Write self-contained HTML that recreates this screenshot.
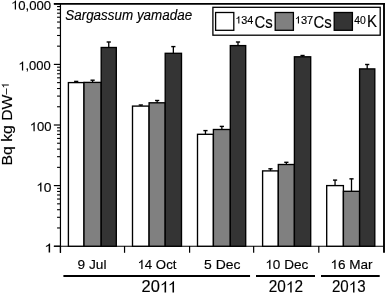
<!DOCTYPE html>
<html><head><meta charset="utf-8"><style>
html,body{margin:0;padding:0;background:#fff;}
body{width:385px;height:293px;overflow:hidden;filter:grayscale(1);}
svg{display:block;}
text{font-family:"Liberation Sans",sans-serif;fill:#000;stroke:#000;stroke-width:0.15px;}
.yl{font-size:12.6px;}
.xl{font-size:13px;}
.yr{font-size:15.6px;}
.lg{font-size:16px;}
.sup{font-size:10.2px;}
.ti{font-size:13.3px;font-style:italic;}
.ya{font-size:14.5px;}
.h{fill-opacity:0;stroke-opacity:0;}
.one{fill:#000;}
</style></head><body>
<svg width="385" height="293" viewBox="0 0 385 293">
<line x1="53.9" y1="3.9" x2="385" y2="3.9" stroke="#000" stroke-width="1.8"/>
<line x1="60.45" y1="3" x2="60.45" y2="252.8" stroke="#000" stroke-width="1.2"/>
<line x1="384" y1="3" x2="384" y2="252.8" stroke="#000" stroke-width="1.9"/>
<line x1="53.9" y1="246.25" x2="384" y2="246.25" stroke="#000" stroke-width="1.2"/>
<line x1="57.05" y1="227.96" x2="60.45" y2="227.96" stroke="#000" stroke-width="1.1"/>
<line x1="57.05" y1="217.29" x2="60.45" y2="217.29" stroke="#000" stroke-width="1.1"/>
<line x1="57.05" y1="209.72" x2="60.45" y2="209.72" stroke="#000" stroke-width="1.1"/>
<line x1="57.05" y1="203.84" x2="60.45" y2="203.84" stroke="#000" stroke-width="1.1"/>
<line x1="57.05" y1="199.04" x2="60.45" y2="199.04" stroke="#000" stroke-width="1.1"/>
<line x1="57.05" y1="194.99" x2="60.45" y2="194.99" stroke="#000" stroke-width="1.1"/>
<line x1="57.05" y1="191.47" x2="60.45" y2="191.47" stroke="#000" stroke-width="1.1"/>
<line x1="57.05" y1="188.37" x2="60.45" y2="188.37" stroke="#000" stroke-width="1.1"/>
<line x1="57.05" y1="167.36" x2="60.45" y2="167.36" stroke="#000" stroke-width="1.1"/>
<line x1="57.05" y1="156.69" x2="60.45" y2="156.69" stroke="#000" stroke-width="1.1"/>
<line x1="57.05" y1="149.12" x2="60.45" y2="149.12" stroke="#000" stroke-width="1.1"/>
<line x1="57.05" y1="143.24" x2="60.45" y2="143.24" stroke="#000" stroke-width="1.1"/>
<line x1="57.05" y1="138.44" x2="60.45" y2="138.44" stroke="#000" stroke-width="1.1"/>
<line x1="57.05" y1="134.39" x2="60.45" y2="134.39" stroke="#000" stroke-width="1.1"/>
<line x1="57.05" y1="130.87" x2="60.45" y2="130.87" stroke="#000" stroke-width="1.1"/>
<line x1="57.05" y1="127.77" x2="60.45" y2="127.77" stroke="#000" stroke-width="1.1"/>
<line x1="57.05" y1="106.76" x2="60.45" y2="106.76" stroke="#000" stroke-width="1.1"/>
<line x1="57.05" y1="96.09" x2="60.45" y2="96.09" stroke="#000" stroke-width="1.1"/>
<line x1="57.05" y1="88.52" x2="60.45" y2="88.52" stroke="#000" stroke-width="1.1"/>
<line x1="57.05" y1="82.64" x2="60.45" y2="82.64" stroke="#000" stroke-width="1.1"/>
<line x1="57.05" y1="77.84" x2="60.45" y2="77.84" stroke="#000" stroke-width="1.1"/>
<line x1="57.05" y1="73.79" x2="60.45" y2="73.79" stroke="#000" stroke-width="1.1"/>
<line x1="57.05" y1="70.27" x2="60.45" y2="70.27" stroke="#000" stroke-width="1.1"/>
<line x1="57.05" y1="67.17" x2="60.45" y2="67.17" stroke="#000" stroke-width="1.1"/>
<line x1="57.05" y1="46.16" x2="60.45" y2="46.16" stroke="#000" stroke-width="1.1"/>
<line x1="57.05" y1="35.49" x2="60.45" y2="35.49" stroke="#000" stroke-width="1.1"/>
<line x1="57.05" y1="27.92" x2="60.45" y2="27.92" stroke="#000" stroke-width="1.1"/>
<line x1="57.05" y1="22.04" x2="60.45" y2="22.04" stroke="#000" stroke-width="1.1"/>
<line x1="57.05" y1="17.24" x2="60.45" y2="17.24" stroke="#000" stroke-width="1.1"/>
<line x1="57.05" y1="13.19" x2="60.45" y2="13.19" stroke="#000" stroke-width="1.1"/>
<line x1="57.05" y1="9.67" x2="60.45" y2="9.67" stroke="#000" stroke-width="1.1"/>
<line x1="57.05" y1="6.57" x2="60.45" y2="6.57" stroke="#000" stroke-width="1.1"/>
<line x1="53.85" y1="246.20" x2="60.45" y2="246.20" stroke="#000" stroke-width="1.2"/>
<line x1="53.85" y1="185.60" x2="60.45" y2="185.60" stroke="#000" stroke-width="1.2"/>
<line x1="53.85" y1="125.00" x2="60.45" y2="125.00" stroke="#000" stroke-width="1.2"/>
<line x1="53.85" y1="64.40" x2="60.45" y2="64.40" stroke="#000" stroke-width="1.2"/>
<line x1="53.85" y1="3.80" x2="60.45" y2="3.80" stroke="#000" stroke-width="1.2"/>
<line x1="60.45" y1="246" x2="60.45" y2="252.8" stroke="#000" stroke-width="1.2"/>
<line x1="124.55" y1="246" x2="124.55" y2="252.8" stroke="#000" stroke-width="1.2"/>
<line x1="189.60" y1="246" x2="189.60" y2="252.8" stroke="#000" stroke-width="1.2"/>
<line x1="253.65" y1="246" x2="253.65" y2="252.8" stroke="#000" stroke-width="1.2"/>
<line x1="318.80" y1="246" x2="318.80" y2="252.8" stroke="#000" stroke-width="1.2"/>
<rect x="68.40" y="82.60" width="15.60" height="163.65" fill="#ffffff" stroke="#000" stroke-width="1.35"/>
<rect x="84.00" y="82.40" width="17.20" height="163.85" fill="#808080" stroke="#000" stroke-width="1.35"/>
<rect x="101.20" y="47.50" width="15.10" height="198.75" fill="#343434" stroke="#000" stroke-width="1.35"/>
<rect x="132.50" y="106.10" width="16.60" height="140.15" fill="#ffffff" stroke="#000" stroke-width="1.35"/>
<rect x="149.10" y="102.80" width="16.10" height="143.45" fill="#808080" stroke="#000" stroke-width="1.35"/>
<rect x="165.20" y="53.30" width="16.30" height="192.95" fill="#343434" stroke="#000" stroke-width="1.35"/>
<rect x="197.50" y="134.30" width="15.90" height="111.95" fill="#ffffff" stroke="#000" stroke-width="1.35"/>
<rect x="213.40" y="129.50" width="16.90" height="116.75" fill="#808080" stroke="#000" stroke-width="1.35"/>
<rect x="230.30" y="45.60" width="15.40" height="200.65" fill="#343434" stroke="#000" stroke-width="1.35"/>
<rect x="262.60" y="170.90" width="15.70" height="75.35" fill="#ffffff" stroke="#000" stroke-width="1.35"/>
<rect x="278.30" y="164.50" width="16.10" height="81.75" fill="#808080" stroke="#000" stroke-width="1.35"/>
<rect x="294.40" y="56.80" width="16.30" height="189.45" fill="#343434" stroke="#000" stroke-width="1.35"/>
<rect x="326.70" y="185.60" width="16.70" height="60.65" fill="#ffffff" stroke="#000" stroke-width="1.35"/>
<rect x="343.40" y="191.30" width="16.20" height="54.95" fill="#808080" stroke="#000" stroke-width="1.35"/>
<rect x="359.60" y="68.90" width="15.20" height="177.35" fill="#343434" stroke="#000" stroke-width="1.35"/>
<line x1="76.20" y1="81.40" x2="76.20" y2="82.60" stroke="#000" stroke-width="1.3"/>
<line x1="74.10" y1="81.40" x2="78.30" y2="81.40" stroke="#000" stroke-width="1.4"/>
<line x1="92.60" y1="80.20" x2="92.60" y2="82.40" stroke="#000" stroke-width="1.3"/>
<line x1="90.50" y1="80.20" x2="94.70" y2="80.20" stroke="#000" stroke-width="1.4"/>
<line x1="108.75" y1="42.00" x2="108.75" y2="47.50" stroke="#000" stroke-width="1.3"/>
<line x1="106.65" y1="42.00" x2="110.85" y2="42.00" stroke="#000" stroke-width="1.4"/>
<line x1="140.80" y1="105.00" x2="140.80" y2="106.10" stroke="#000" stroke-width="1.3"/>
<line x1="138.70" y1="105.00" x2="142.90" y2="105.00" stroke="#000" stroke-width="1.4"/>
<line x1="157.15" y1="100.50" x2="157.15" y2="102.80" stroke="#000" stroke-width="1.3"/>
<line x1="155.05" y1="100.50" x2="159.25" y2="100.50" stroke="#000" stroke-width="1.4"/>
<line x1="173.35" y1="46.60" x2="173.35" y2="53.30" stroke="#000" stroke-width="1.3"/>
<line x1="171.25" y1="46.60" x2="175.45" y2="46.60" stroke="#000" stroke-width="1.4"/>
<line x1="205.45" y1="130.60" x2="205.45" y2="134.30" stroke="#000" stroke-width="1.3"/>
<line x1="203.35" y1="130.60" x2="207.55" y2="130.60" stroke="#000" stroke-width="1.4"/>
<line x1="221.85" y1="126.40" x2="221.85" y2="129.50" stroke="#000" stroke-width="1.3"/>
<line x1="219.75" y1="126.40" x2="223.95" y2="126.40" stroke="#000" stroke-width="1.4"/>
<line x1="238.00" y1="42.00" x2="238.00" y2="45.60" stroke="#000" stroke-width="1.3"/>
<line x1="235.90" y1="42.00" x2="240.10" y2="42.00" stroke="#000" stroke-width="1.4"/>
<line x1="270.45" y1="168.80" x2="270.45" y2="170.90" stroke="#000" stroke-width="1.3"/>
<line x1="268.35" y1="168.80" x2="272.55" y2="168.80" stroke="#000" stroke-width="1.4"/>
<line x1="286.35" y1="162.30" x2="286.35" y2="164.50" stroke="#000" stroke-width="1.3"/>
<line x1="284.25" y1="162.30" x2="288.45" y2="162.30" stroke="#000" stroke-width="1.4"/>
<line x1="302.55" y1="55.50" x2="302.55" y2="56.80" stroke="#000" stroke-width="1.3"/>
<line x1="300.45" y1="55.50" x2="304.65" y2="55.50" stroke="#000" stroke-width="1.4"/>
<line x1="335.05" y1="180.10" x2="335.05" y2="185.60" stroke="#000" stroke-width="1.3"/>
<line x1="332.95" y1="180.10" x2="337.15" y2="180.10" stroke="#000" stroke-width="1.4"/>
<line x1="351.50" y1="178.85" x2="351.50" y2="191.30" stroke="#000" stroke-width="1.3"/>
<line x1="349.40" y1="178.85" x2="353.60" y2="178.85" stroke="#000" stroke-width="1.4"/>
<line x1="367.20" y1="64.50" x2="367.20" y2="68.90" stroke="#000" stroke-width="1.3"/>
<line x1="365.10" y1="64.50" x2="369.30" y2="64.50" stroke="#000" stroke-width="1.4"/>
<rect x="212.9" y="7.3" width="167.3" height="27.9" fill="#fff" stroke="#000" stroke-width="1.3"/>
<rect x="215.6" y="12.5" width="18.2" height="17.8" fill="#fff" stroke="#000" stroke-width="1.3"/>
<rect x="275.2" y="12.5" width="18.2" height="17.8" fill="#808080" stroke="#000" stroke-width="1.3"/>
<rect x="334.2" y="12.5" width="18.2" height="17.8" fill="#343434" stroke="#000" stroke-width="1.3"/>
<text x="11.04" y="9.5" style="font-size:12.6px;" textLength="40.11" lengthAdjust="spacingAndGlyphs"><tspan class="h">1</tspan>0,000</text>
<text x="18.22" y="70.4" style="font-size:12.6px;" textLength="32.52" lengthAdjust="spacingAndGlyphs"><tspan class="h">1</tspan>,000</text>
<text x="29.74" y="131.2" style="font-size:12.6px;" textLength="21.8" lengthAdjust="spacingAndGlyphs"><tspan class="h">1</tspan>00</text>
<text x="44.22" y="252.6" style="font-size:12.6px;" textLength="8.64" lengthAdjust="spacingAndGlyphs"><tspan class="h">1</tspan></text>
<text x="77.52" y="269.0" style="font-size:13px;" textLength="28.95" lengthAdjust="spacingAndGlyphs">9 Jul</text>
<text x="137.54" y="269.1" style="font-size:13px;" textLength="38.86" lengthAdjust="spacingAndGlyphs"><tspan class="h">1</tspan>4 Oct</text>
<text x="204.0" y="269.1" style="font-size:13px;" textLength="36.43" lengthAdjust="spacingAndGlyphs">5 Dec</text>
<text x="265.32" y="269.1" style="font-size:13px;" textLength="43.0" lengthAdjust="spacingAndGlyphs"><tspan class="h">1</tspan>0 Dec</text>
<text x="330.44" y="269.1" style="font-size:13px;" textLength="42.13" lengthAdjust="spacingAndGlyphs"><tspan class="h">1</tspan>6 Mar</text>
<text x="141.58" y="292.4" style="font-size:15.6px;" textLength="35.37" lengthAdjust="spacingAndGlyphs">20<tspan class="h">1</tspan><tspan class="h">1</tspan></text>
<text x="268.76" y="292.4" style="font-size:15.6px;" textLength="34.22" lengthAdjust="spacingAndGlyphs">20<tspan class="h">1</tspan>2</text>
<text x="331.96" y="292.4" style="font-size:15.6px;" textLength="33.6" lengthAdjust="spacingAndGlyphs">20<tspan class="h">1</tspan>3</text>
<text x="65.28" y="19.5" style="font-size:13.8px;font-style:italic" textLength="126.86" lengthAdjust="spacingAndGlyphs">Sargassum yamadae</text>
<text x="235.22" y="23.6" style="font-size:10.2px;" textLength="18.12" lengthAdjust="spacingAndGlyphs"><tspan class="h">1</tspan>34</text>
<text x="254.46" y="27.8" style="font-size:16px;" textLength="18.2" lengthAdjust="spacingAndGlyphs">Cs</text>
<text x="294.74" y="23.6" style="font-size:10.2px;" textLength="18.48" lengthAdjust="spacingAndGlyphs"><tspan class="h">1</tspan>37</text>
<text x="313.42" y="27.7" style="font-size:16px;" textLength="18.26" lengthAdjust="spacingAndGlyphs">Cs</text>
<text x="354.26" y="23.6" style="font-size:10.2px;" textLength="11.56" lengthAdjust="spacingAndGlyphs">40</text>
<text x="367.12" y="26.6" style="font-size:16.3px;" textLength="10.0" lengthAdjust="spacingAndGlyphs">K</text>
<text x="36.22" y="191.6" style="font-size:12.6px;" textLength="15.32" lengthAdjust="spacingAndGlyphs"><tspan class="h">1</tspan>0</text>
<line x1="63.4" y1="275.9" x2="250.05" y2="275.9" stroke="#000" stroke-width="2"/>
<line x1="256" y1="275.9" x2="315" y2="275.9" stroke="#000" stroke-width="2"/>
<line x1="321" y1="275.9" x2="379.7" y2="275.9" stroke="#000" stroke-width="2"/>
<text transform="translate(11.5,165.4) rotate(-90) scale(1.086,1)" class="ya">Bq kg DW<tspan dy="-2.7" font-size="10">&#8211;<tspan class="h">1</tspan></tspan></text>
<path class="one" transform="translate(11.04,9.50) scale(0.00640,-0.00615)" d="M583,0 L778,0 L778,1466 L650,1466 C620,1390 560,1310 470,1235 C390,1170 300,1115 223,1085 L223,905 C330,945 460,1020 583,1120 Z"/>
<path class="one" transform="translate(18.22,70.40) scale(0.00635,-0.00615)" d="M583,0 L778,0 L778,1466 L650,1466 C620,1390 560,1310 470,1235 C390,1170 300,1115 223,1085 L223,905 C330,945 460,1020 583,1120 Z"/>
<path class="one" transform="translate(29.74,131.20) scale(0.00638,-0.00615)" d="M583,0 L778,0 L778,1466 L650,1466 C620,1390 560,1310 470,1235 C390,1170 300,1115 223,1085 L223,905 C330,945 460,1020 583,1120 Z"/>
<path class="one" transform="translate(44.22,252.60) scale(0.00758,-0.00615)" d="M583,0 L778,0 L778,1466 L650,1466 C620,1390 560,1310 470,1235 C390,1170 300,1115 223,1085 L223,905 C330,945 460,1020 583,1120 Z"/>
<path class="one" transform="translate(137.54,269.10) scale(0.00644,-0.00635)" d="M583,0 L778,0 L778,1466 L650,1466 C620,1390 560,1310 470,1235 C390,1170 300,1115 223,1085 L223,905 C330,945 460,1020 583,1120 Z"/>
<path class="one" transform="translate(265.32,269.10) scale(0.00662,-0.00635)" d="M583,0 L778,0 L778,1466 L650,1466 C620,1390 560,1310 470,1235 C390,1170 300,1115 223,1085 L223,905 C330,945 460,1020 583,1120 Z"/>
<path class="one" transform="translate(330.44,269.10) scale(0.00661,-0.00635)" d="M583,0 L778,0 L778,1466 L650,1466 C620,1390 560,1310 470,1235 C390,1170 300,1115 223,1085 L223,905 C330,945 460,1020 583,1120 Z"/>
<path class="one" transform="translate(159.87,292.40) scale(0.00803,-0.00762)" d="M583,0 L778,0 L778,1466 L650,1466 C620,1390 560,1310 470,1235 C390,1170 300,1115 223,1085 L223,905 C330,945 460,1020 583,1120 Z"/>
<path class="one" transform="translate(167.79,292.40) scale(0.00803,-0.00762)" d="M583,0 L778,0 L778,1466 L650,1466 C620,1390 560,1310 470,1235 C390,1170 300,1115 223,1085 L223,905 C330,945 460,1020 583,1120 Z"/>
<path class="one" transform="translate(285.86,292.40) scale(0.00750,-0.00762)" d="M583,0 L778,0 L778,1466 L650,1466 C620,1390 560,1310 470,1235 C390,1170 300,1115 223,1085 L223,905 C330,945 460,1020 583,1120 Z"/>
<path class="one" transform="translate(348.75,292.40) scale(0.00737,-0.00762)" d="M583,0 L778,0 L778,1466 L650,1466 C620,1390 560,1310 470,1235 C390,1170 300,1115 223,1085 L223,905 C330,945 460,1020 583,1120 Z"/>
<path class="one" transform="translate(235.22,23.60) scale(0.00530,-0.00498)" d="M583,0 L778,0 L778,1466 L650,1466 C620,1390 560,1310 470,1235 C390,1170 300,1115 223,1085 L223,905 C330,945 460,1020 583,1120 Z"/>
<path class="one" transform="translate(294.74,23.60) scale(0.00541,-0.00498)" d="M583,0 L778,0 L778,1466 L650,1466 C620,1390 560,1310 470,1235 C390,1170 300,1115 223,1085 L223,905 C330,945 460,1020 583,1120 Z"/>
<path class="one" transform="translate(36.22,191.60) scale(0.00672,-0.00615)" d="M583,0 L778,0 L778,1466 L650,1466 C620,1390 560,1310 470,1235 C390,1170 300,1115 223,1085 L223,905 C330,945 460,1020 583,1120 Z"/>
<g transform="translate(11.5,165.4) rotate(-90) scale(1.086,1)"><path class="one" transform="translate(70.77,-2.70) scale(0.00488,-0.00488)" d="M583,0 L778,0 L778,1466 L650,1466 C620,1390 560,1310 470,1235 C390,1170 300,1115 223,1085 L223,905 C330,945 460,1020 583,1120 Z"/></g>
</svg>
</body></html>
